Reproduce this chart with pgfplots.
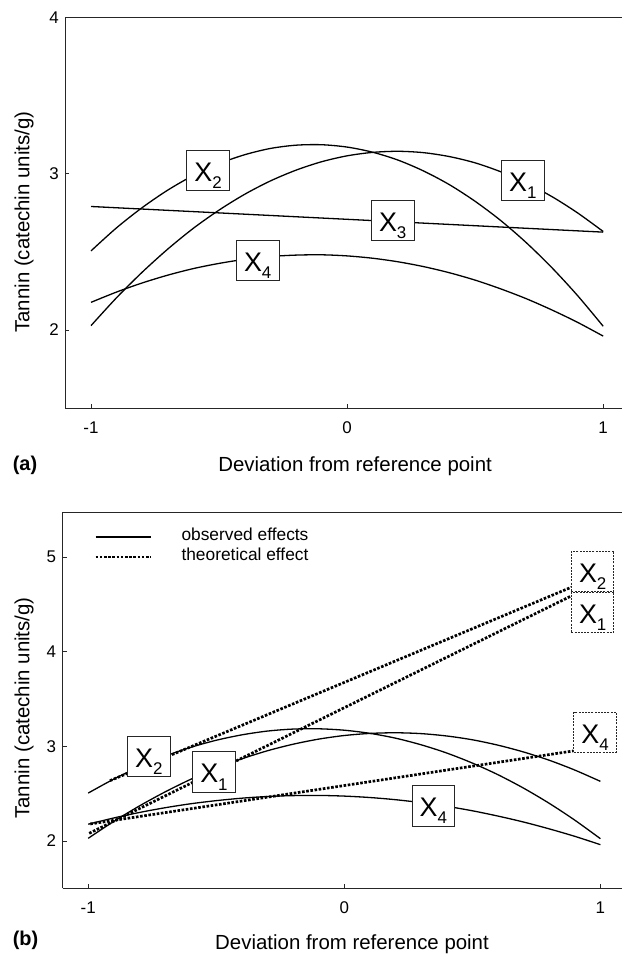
\documentclass[border=0pt]{standalone}
\usepackage{fontspec}
\setmainfont{Liberation Sans}
\usepackage{pgfplots}
\usepackage{pgfplotstable}
\pgfplotsset{compat=1.18}

\pgfplotstableread{
x     X2     X1     X4
-1.0  2.506  2.028  2.177
-0.9  2.654  2.207  2.243
-0.8  2.783  2.370  2.301
-0.7  2.895  2.518  2.351
-0.6  2.989  2.651  2.393
-0.5  3.064  2.767  2.426
-0.4  3.121  2.868  2.452
-0.3  3.161  2.953  2.470
-0.2  3.182  3.022  2.479
-0.1  3.185  3.076  2.481
 0.0  3.170  3.114  2.474
 0.1  3.137  3.136  2.459
 0.2  3.086  3.143  2.436
 0.3  3.016  3.134  2.405
 0.4  2.929  3.109  2.366
 0.5  2.823  3.069  2.319
 0.6  2.700  3.012  2.263
 0.7  2.558  2.940  2.200
 0.8  2.398  2.853  2.128
 0.9  2.220  2.749  2.049
 1.0  2.024  2.630  1.961
}\observed

\newcommand{\Xs}[1]{\fontsize{27}{27}\selectfont X\raisebox{-7.3bp}{\fontsize{17}{17}\selectfont #1}}

\tikzset{
  lab/.style={draw=black!85, fill=white, line width=0.8bp, minimum width=42.5bp,
    inner xsep=0pt, inner ysep=2bp, text height=29bp, text depth=7.3bp},
  dlab/.style={lab, dash pattern=on 2bp off 1.2bp, line width=1bp},
  theo/.style={black, line width=2.7bp, dash pattern=on 2.6bp off 1.6bp},
}

\pgfplotsset{
  panel/.style={
    scale only axis,
    axis x line*=box, axis y line*=left,
    axis line style={-, line width=0.9bp, black!85},
    tick align=inside, tick pos=left,
    major tick length=4bp,
    tick style={line width=0.8bp, black!85},
    xtick={-1,0,1}, xticklabels={-1,0,1},
    ticklabel style={font=\fontsize{17}{17}\selectfont},
    xticklabel style={yshift=-10bp},
    yticklabel style={xshift=-3bp},
    label style={font=\fontsize{20.5}{20.5}\selectfont},
    xlabel={Deviation from reference point},
    ylabel={Tannin (catechin units/g)},
    clip=false,
  }
}

\begin{document}
\begin{tikzpicture}
\useasboundingbox (0,0) rectangle (622bp,954bp);

% ---------------- panel (a)
\begin{axis}[panel,
  at={(65.4bp,545.8bp)}, anchor=south west,
  width=557bp, height=390.9bp,
  xmin=-1.1, xmax=1.075, ymin=1.5, ymax=4,
  ytick={2,3,4}, yticklabels={2,3,4},
  xlabel style={at={(axis description cs:0.52,-0.1607)}, anchor=base},
  ylabel style={at={(axis description cs:-0.0743,0.476)}, anchor=center},
]
\addplot[black, line width=1.3bp, smooth] table[x=x, y=X2] {\observed};
\addplot[black, line width=1.3bp, smooth] table[x=x, y=X1] {\observed};
\addplot[black, line width=1.3bp] coordinates {(-1,2.79) (1,2.626)};
\addplot[black, line width=1.3bp, smooth] table[x=x, y=X4] {\observed};
\node[lab] at (axis cs:-0.543,3.021) {\Xs{2}};
\node[lab] at (axis cs:0.686,2.957) {\Xs{1}};
\node[lab] at (axis cs:0.178,2.701) {\Xs{3}};
\node[lab] at (axis cs:-0.349,2.444) {\Xs{4}};
\end{axis}

\node[anchor=base, font=\bfseries\fontsize{20}{20}\selectfont] at (25bp,483bp) {(a)};

% ---------------- panel (b)
\begin{axis}[panel,
  at={(62.6bp,65.7bp)}, anchor=south west,
  width=559.3bp, height=375.8bp,
  xmin=-1.1, xmax=1.084, ymin=1.5, ymax=5.47,
  ytick={2,3,4,5}, yticklabels={2,3,4,5},
  xlabel style={at={(axis description cs:0.5175,-0.164)}, anchor=base},
  ylabel style={at={(axis description cs:-0.069,0.480)}, anchor=center},
  legend style={draw=none, fill=none, at={(axis description cs:0.0564,0.958)},
    anchor=north west, font=\fontsize{17.4}{17.4}\selectfont,
    inner sep=0pt, row sep=3bp,
    nodes={inner xsep=1.5bp, inner ysep=0pt, text height=12.5bp, text depth=4.5bp},
    /tikz/every odd column/.append style={column sep=28bp}},
  legend cell align=left,
  legend image code/.code={\draw[#1] (0bp,0bp) -- (55bp,0bp);},
]
\addlegendimage{black, line width=2bp}
\addlegendentry{observed effects}
\addlegendimage{theo}
\addlegendentry{theoretical effect}
\addplot[black, line width=1.3bp, smooth, forget plot] table[x=x, y=X2] {\observed};
\addplot[black, line width=1.3bp, smooth, forget plot] table[x=x, y=X1] {\observed};
\addplot[black, line width=1.3bp, smooth, forget plot] table[x=x, y=X4] {\observed};
\addplot[theo, forget plot] coordinates {(-0.915,2.637) (0.886,4.68)};
\addplot[theo, forget plot] coordinates {(-0.996,2.081) (0.886,4.588)};
\addplot[theo, forget plot] coordinates {(-0.992,2.18) (0.894,2.951)};
\node[lab] at (axis cs:-0.763,2.89) {\Xs{2}};
\node[lab] at (axis cs:-0.509,2.729) {\Xs{1}};
\node[lab] at (axis cs:0.348,2.372) {\Xs{4}};
\node[dlab] at (axis cs:0.970,4.85) {\Xs{2}};
\node[dlab] at (axis cs:0.970,4.417) {\Xs{1}};
\node[dlab] at (axis cs:0.979,3.149) {\Xs{4}};
\end{axis}

\node[anchor=base, font=\bfseries\fontsize{20}{20}\selectfont] at (25.5bp,8.3bp) {(b)};
\end{tikzpicture}
\end{document}
